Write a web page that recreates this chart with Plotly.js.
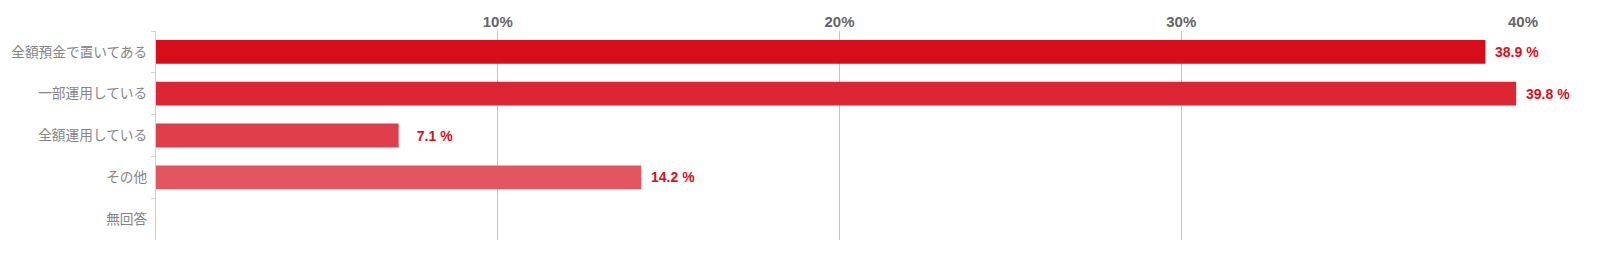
<!DOCTYPE html>
<html>
<head>
<meta charset="utf-8">
<script src="https://cdn.plot.ly/plotly-3.0.1.min.js"></script>
<style>html,body{margin:0;padding:0;background:#fff;}#chart{width:1623px;height:255px;}</style>
</head>
<body>
<div id="chart"></div>
<script>
const categories = ["全額預金で置いてある", "一部運用している", "全額運用している", "その他", "無回答"];
const values = [38.9, 39.8, 7.1, 14.2, null];
const barColors = ["#d80d1a", "#dd2533", "#e03e4a", "#e4565f", "#e8707a"];
const xTickVals = [10, 20, 30, 40];
const xTickText = ["10%", "20%", "30%", "40%"];

const labelColor = "#d7101c";

const trace = {
  type: "bar",
  orientation: "h",
  y: categories,
  x: values,
  marker: {color: barColors, line: {width: 0}},
  hoverinfo: "none",
  cliponaxis: false
};

const annotations = [];
values.forEach((v, i) => {
  if (v === null || v === undefined) return;
  annotations.push({
    x: v, y: categories[i], xref: "x", yref: "y",
    text: v.toFixed(1).padStart(4, "\u2007") + " %",
    showarrow: false, xanchor: "left", yanchor: "middle", xshift: 8,
    font: {family: "Liberation Sans, Arial, sans-serif", size: 14, color: labelColor, weight: "bold"}
  });
});

const layout = {
  width: 1623, height: 255,
  margin: {l: 156, r: 100, t: 31, b: 15, pad: 0},
  paper_bgcolor: "#ffffff", plot_bgcolor: "#ffffff",
  showlegend: false,
  bargap: 0.43,
  xaxis: {
    side: "top",
    range: [0, 40],
    tickvals: xTickVals, ticktext: xTickText,
    showgrid: true, gridcolor: "#c4c4c4", gridwidth: 1,
    zeroline: false, showline: false, ticks: "",
    tickfont: {family: "Liberation Sans, Arial, sans-serif", size: 15, color: "#666666", weight: "bold"},
    fixedrange: true
  },
  yaxis: {
    autorange: "reversed",
    type: "category",
    showline: true, linecolor: "#c2d3e6", linewidth: 1,
    ticks: "outside", tickson: "boundaries", ticklen: 4, tickcolor: "#c2d3e6", tickwidth: 1,
    ticklabelstandoff: 5,
    showgrid: false, zeroline: false,
    tickfont: {family: "Noto Sans CJK JP, sans-serif", size: 13.7, color: "#858585"},
    fixedrange: true
  },
  annotations: annotations
};

Plotly.newPlot("chart", [trace], layout, {displayModeBar: false, staticPlot: true});
</script>
</body>
</html>
